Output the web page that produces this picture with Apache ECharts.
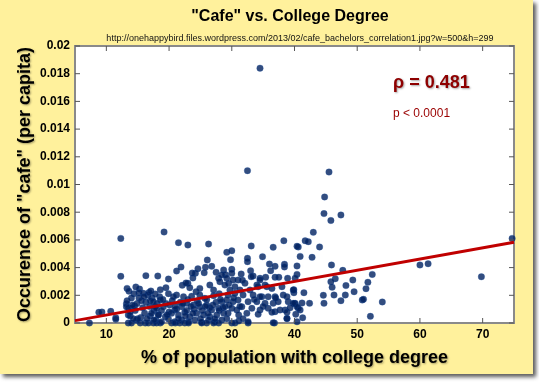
<!DOCTYPE html>
<html>
<head>
<meta charset="utf-8">
<script src="https://cdn.jsdelivr.net/npm/echarts@6/dist/echarts.min.js"></script>
<style>
html,body{margin:0;padding:0;background:#ffffff;}
#bg{position:absolute;left:0;top:0;width:533px;height:374px;background:#fff19c;box-shadow:3px 3px 4px rgba(0,0,0,0.65);}
#chart{position:absolute;left:0;top:0;width:539px;height:382px;}
</style>
</head>
<body>
<div id="bg"></div>
<div id="chart"></div>
<script>
// ---- data (x: % of population with college degree, y: occurrence of "cafe" per capita) ----
const sparsePoints = [
[34.5,0.0184],[32.5,0.0110],[45.5,0.0109],[44.8,0.0091],[44.7,0.0079],[45.8,0.0074],[47.4,0.0078],
[43.0,0.00655],[41.7,0.00594],[42.2,0.00587],[44.0,0.00549],[42.8,0.00474],[40.6,0.00549],[40.9,0.00481],
[40.4,0.00412],[40.4,0.00351],[45.9,0.00419],[47.7,0.0038],[46.5,0.0032],[45.8,0.00298],[46.0,0.00258],
[48.2,0.0027],[49.3,0.0031],[51.7,0.00294],[52.4,0.00351],[51.4,0.00248],[49.5,0.00226],[48.1,0.00202],
[46.3,0.00202],[44.6,0.002],[44.7,0.00142],[47.4,0.00161],[50.8,0.00166],[51.0,0.00171],[54.0,0.00152],
[52.1,0.00048],[60.0,0.00419],[61.3,0.00428],[69.8,0.00334],[74.7,0.00611],[39.9,0.0024],[39.9,0.00219],
[41.5,0.00219],[40.0,0.00139],[41.2,0.00144],[42.4,0.00142],[40.6,0.00106],[41.3,0.00038],[38.8,0.00034],
[40.4,0.00554]
];
const leftPoints = [
[12.3,0.00611],[12.3,0.00337],[9.3,0.00079],[8.8,0.00077],[10.7,0.00084],[11.5,0.00038],[7.3,0.0],
[13.3,0.0025],[14.4,0.00212],[15.3,0.00245],[15.2,0.00219],[15.9,0.00214],[16.6,0.00202],[13.2,0.00139],
[13.2,0.00118],[14.5,0.00123],[14.1,0.00106],[13.5,0.00058],[11.5,0.00027],[13.5,0.0],[14.0,0.0],
[14.8,0.0002],[16.3,0.00342],[13.3,0.0016],[13.5,0.0011],[13.8,0.0005],[14.6,0.0009],[14.9,0.0014],
[15.2,0.0018],[15.5,0.0004],[15.8,0.0011],[16.1,0.0007],[16.3,0.0015],[16.9,0.0012],[17.0,0.0005],
[17.3,0.0018],[17.6,0.0009],[17.9,0.0002],[18.1,0.0014],[15.4,0.0],[16.2,0.0],[16.7,0.0],[17.5,0.0],
[18.0,0.0],[18.6,0.0],[16.8,0.0022],[14.0,0.0018],[18.6,0.0024],[13.6,0.0023],[14.7,0.0026],[15.0,0.0003],
[16.5,0.0003],[18.3,0.0006],[14.3,0.0003],
[13.8,0.0008],[14.2,0.0013],[15.6,0.0016],[16.0,0.0019],[17.0,0.0016],[17.8,0.0012],[18.5,0.0019]
];
const midPoints = [
[19.2,0.00657],[21.5,0.0058],[23.0,0.00563],[26.3,0.0057],[26.1,0.00455],[25.8,0.00402],[24.6,0.00392],
[24.2,0.00359],[23.8,0.00325],[23.0,0.00287],[21.9,0.00404],[21.2,0.00375],[22.1,0.00272],[19.9,0.00318],
[19.5,0.00255],[18.2,0.00339],[28.7,0.00383],[29.0,0.00349],[27.5,0.00366],[27.9,0.00323],[26.8,0.00409],
[23.7,0.00361],[25.6,0.00363],[22.7,0.00289],
[19.9,0.00212],[17.8,0.00209],[17.1,0.00231],[23.3,0.00255],[24.3,0.00226],[24.9,0.0025],[26.5,0.00274],
[27.1,0.00238],[28.1,0.00298],[28.4,0.00347],[21.2,0.00202],[22.3,0.0019],[23.6,0.00193],[24.9,0.00202],
[25.7,0.00178],[27.1,0.00197],[28.0,0.00212],
[17.5,0.00154],[18.6,0.00166],[19.1,0.00118],[18.0,0.00106],[20.1,0.0013],[20.9,0.00094],[22.0,0.00118],
[22.8,0.00142],[23.9,0.0013],[24.9,0.00118],[26.0,0.0013],[26.8,0.00094],[27.9,0.00106],[28.4,0.00154],
[17.2,0.0007],[18.3,0.00058],[19.4,0.00046],[20.4,0.0007],[21.5,0.00058],[22.5,0.00077],[23.3,0.00046],
[24.4,0.0007],[25.5,0.00058],[26.5,0.00046],[27.6,0.00058],[28.7,0.0007],
[17.6,0.00022],[18.8,0.00009],[19.9,0.00029],[20.9,0.00009],[22.0,0.00022],[23.1,0.00009],[24.1,0.00022],
[25.2,0.00005],[26.3,0.00022],[27.3,0.00009],[28.4,0.00022],
[20.4,0],[21.0,0],[21.7,0],[22.5,0],[23.1,0],[25.2,0],[26.0,0],[27.1,0],[27.9,0],[30.0,0],[30.5,0],
[32.6,0],[36.8,0],
[19.0,0.0017],[20.5,0.0016],[21.8,0.0015],[23.0,0.0017],[24.5,0.0016],[26.0,0.0017],[27.5,0.0015],
[18.8,0.0009],[20.0,0.0008],[21.2,0.001],[22.8,0.0009],[24.0,0.001],[25.3,0.0009],[26.5,0.0011],[28.0,0.0009],
[19.5,0.0014],[19.7,0.0006],[20.7,0.0019],[21.0,0.0012],[21.5,0.0003],[22.2,0.0014],[22.6,0.0005],
[23.5,0.0012],[23.8,0.0007],[24.7,0.0014],[25.0,0.0003],[25.8,0.0012],[26.2,0.0007],[27.0,0.0013],
[27.3,0.0003],[28.2,0.0017],[28.6,0.0011]
];
const rightPoints = [
[32.5,0.00467],[32.5,0.00443],[34.9,0.00479],[29.8,0.00457],[36.0,0.00426],[36.9,0.00409],[38.4,0.00424],
[38.4,0.00404],[30.0,0.00388],[30.0,0.00359],[33.0,0.00378],[31.5,0.00354],[33.4,0.00339],[34.5,0.00323],
[35.4,0.0033],[36.9,0.0033],[37.5,0.0033],[38.9,0.00323],[40.1,0.00323],[29.2,0.00323],[29.5,0.00286],
[28.9,0.00274],[31.0,0.0031],[32.1,0.00287],[30.5,0.00262],[29.7,0.00238],[31.3,0.00238],[32.9,0.00238],
[34.2,0.00262],[35.3,0.00274],[36.4,0.0025],[38.0,0.00262],[39.8,0.00238],
[29.2,0.0051],[30.0,0.00522],[33.1,0.00556],[36.6,0.00547],[38.3,0.00594],[36.2,0.00378],[34.5,0.0031],
[33.1,0.00334],[31.7,0.00308],[30.2,0.0031],[34.0,0.00274],[35.6,0.00262],
[29.4,0.00202],[30.5,0.00214],[31.8,0.00202],[33.4,0.00202],[34.8,0.0019],[35.8,0.0019],[36.9,0.0019],[38.2,0.00202],
[29.2,0.00166],[30.2,0.00154],[31.0,0.00166],[32.6,0.00154],[34.0,0.00154],[35.3,0.00142],[36.6,0.00142],
[37.4,0.00154],[39.0,0.00154],[40.1,0.00142],
[28.9,0.00118],[30.0,0.00106],[30.8,0.00094],[31.6,0.00118],[33.2,0.00106],[34.5,0.00094],[35.8,0.00106],
[36.9,0.00082],[38.5,0.00094],[40.4,0.00118],
[29.4,0.0007],[31.1,0.00058],[32.4,0.0007],[34.2,0.00063],[36.4,0.00077],[38.8,0.00077],[40.2,0.00063],
[32.6,0.00009],[36.6,0.00002],[38.8,0.00031],[40.4,0.00009],[29.2,0.00031],[31.1,0.00014],
[38.8,0.0019],[37.7,0.00094],[39.8,0.00142],[40.9,0.00094],[34.5,0.0019],
[29.6,0.0013],[30.3,0.0018],[31.3,0.0012],[31.8,0.0003],[33.6,0.0017],[35.0,0.0012],[37.0,0.0018],[39.3,0.0011]
];
const trendLine = [[5,0.00017],[75,0.00583]];
const xRange = [5,75];
const yRange = [0,0.02];
const xTickValues = [10,20,30,40,50,60,70];
const yTickValues = [0,0.002,0.004,0.006,0.008,0.01,0.012,0.014,0.016,0.018,0.02];
const rhoText = 'ρ = 0.481';
const pText = 'p < 0.0001';

const FONT = '"Liberation Sans", Arial, Helvetica, sans-serif';
const allPoints = sparsePoints.concat(leftPoints, midPoints, rightPoints);

const chart = echarts.init(document.getElementById('chart'), null, {renderer:'canvas'});

const TICK_LEN = 5;
const tickLine = {stroke:'#555', lineWidth:1};
const axisLineStyle = {show:true, lineStyle:{color:'#8a8a8a', width:2}};
const shadowText = {textShadowColor:'rgba(0,0,0,0.35)', textShadowBlur:2, textShadowOffsetX:1, textShadowOffsetY:1};

// inward ticks on all four sides, positioned through the axes' scales
function xTickItem(params, api) {
  const v = api.value(0);
  const b = api.coord([v, yRange[0]]);
  const t = api.coord([v, yRange[1]]);
  return {type:'group', children:[
    {type:'line', shape:{x1:b[0], y1:b[1], x2:b[0], y2:b[1]-TICK_LEN}, style:tickLine},
    {type:'line', shape:{x1:t[0], y1:t[1], x2:t[0], y2:t[1]+TICK_LEN}, style:tickLine}
  ]};
}
function yTickItem(params, api) {
  const v = api.value(0);
  const l = api.coord([xRange[0], v]);
  const r = api.coord([xRange[1], v]);
  return {type:'group', children:[
    {type:'line', shape:{x1:l[0], y1:l[1], x2:l[0]+TICK_LEN, y2:l[1]}, style:tickLine},
    {type:'line', shape:{x1:r[0], y1:r[1], x2:r[0]-TICK_LEN, y2:r[1]}, style:tickLine}
  ]};
}

const option = {
  backgroundColor: 'transparent',
  animation: false,
  grid: {left:75, top:46, right:25, bottom:59, show:true, backgroundColor:'#ffffff', borderColor:'#8a8a8a', borderWidth:2},
  xAxis: {
    type:'value', min:xRange[0], max:xRange[1], position:'bottom',
    axisLine: axisLineStyle,
    axisTick: {show:false},
    axisLabel: {customValues: xTickValues, color:'#000', fontFamily:FONT, fontWeight:'bold', fontSize:12, margin:6},
    splitLine:{show:false},
    name:'% of population with college degree', nameLocation:'middle', nameGap:26, nameMoveOverlap:false,
    nameTextStyle:Object.assign({color:'#000', fontFamily:FONT, fontWeight:'bold', fontSize:18}, shadowText)
  },
  yAxis: {
    type:'value', min:yRange[0], max:yRange[1], interval:0.002, position:'left',
    axisLine: axisLineStyle,
    axisTick: {show:false},
    axisLabel: {color:'#000', fontFamily:FONT, fontWeight:'bold', fontSize:12, margin:5,
      formatter: v => String(+v.toFixed(4))},
    splitLine:{show:false},
    name:'Occurence of "cafe" (per capita)', nameLocation:'middle', nameGap:41, nameMoveOverlap:false,
    nameTextStyle:Object.assign({color:'#000', fontFamily:FONT, fontWeight:'bold', fontSize:18}, shadowText)
  },
  graphic: [
    {type:'text', x:290, y:17, z:100, style:{text:'"Cafe" vs. College Degree', fill:'#000', font:'bold 16px '+FONT, align:'center', verticalAlign:'middle'}},
    {type:'text', x:300, y:39, z:100, style:{text:'http://onehappybird.files.wordpress.com/2013/02/cafe_bachelors_correlation1.jpg?w=500&h=299', fill:'#111', font:'9px '+FONT, align:'center', verticalAlign:'middle'}},
    {type:'text', x:393, y:83, z:100, style:Object.assign({text:rhoText, fill:'#8e0000', font:'bold 18px '+FONT, align:'left', verticalAlign:'middle'}, shadowText)},
    {type:'text', x:393, y:114, z:100, style:{text:pText, fill:'#9a0000', font:'12px '+FONT, align:'left', verticalAlign:'middle'}}
  ],
  series: [
    {type:'scatter', data: allPoints, symbol:'circle', symbolSize:6.5, z:2,
      itemStyle:{color:'#00215f', borderColor:'rgba(30,80,160,0.6)', borderWidth:0.6}},
    {type:'line', data: trendLine, symbol:'none', z:3,
      lineStyle:{color:'#c00000', width:3}},
    {type:'custom', name:'xTicks', data: xTickValues.map(v => [v]), renderItem: xTickItem, clip:false, silent:true, z:5,
      encode:{x:0}},
    {type:'custom', name:'yTicks', data: yTickValues.map(v => [v]), renderItem: yTickItem, clip:false, silent:true, z:5,
      encode:{y:0}}
  ]
};
chart.setOption(option);
</script>
</body>
</html>
